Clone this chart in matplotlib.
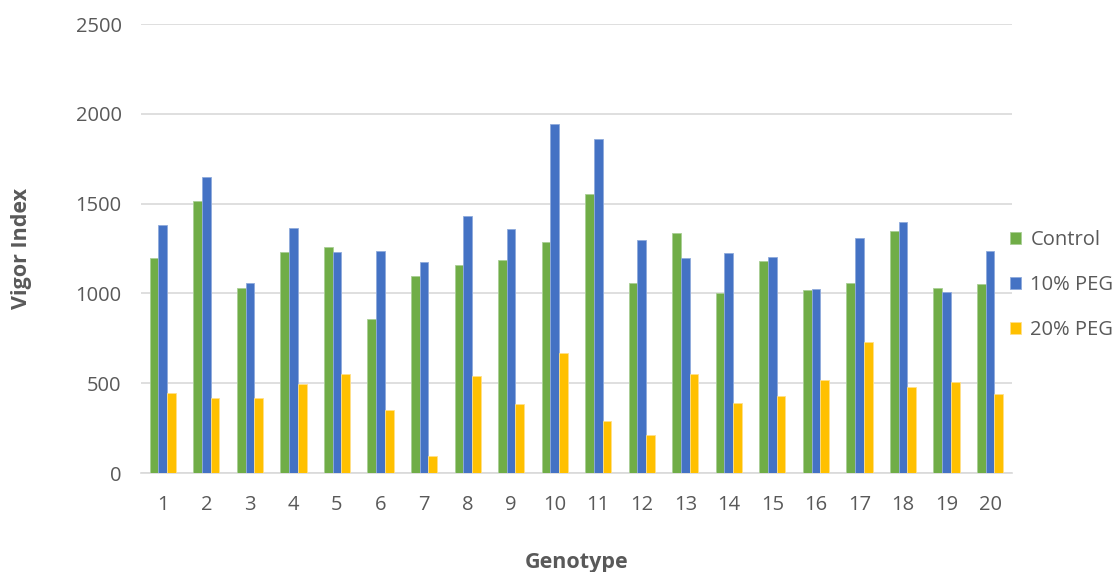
import numpy as np
import matplotlib.pyplot as plt

# values
genotypes = [str(i) for i in range(1, 21)]
control = [1195, 1516, 1030, 1230, 1260, 859, 1095, 1160, 1187, 1288,
           1553, 1059, 1338, 1002, 1180, 1017, 1059, 1345, 1030, 1052]
peg10 = [1380, 1651, 1059, 1367, 1230, 1237, 1174, 1430, 1358, 1944,
         1859, 1295, 1195, 1223, 1202, 1024, 1310, 1395, 1009, 1237]
peg20 = [445, 417, 417, 497, 553, 352, 96, 540, 382, 668,
         289, 212, 553, 388, 430, 516, 731, 481, 508, 438]

series = ['Control', '10% PEG', '20% PEG']
colors = ['#70AD47', '#4472C4', '#FFC000']
edges = ['#A9CF95', '#8FAADC', '#FFE08A']
grey = '#595959'

plt.rcParams['font.family'] = ['Open Sans', 'DejaVu Sans']

fig = plt.figure(figsize=(11.15, 5.72), dpi=100)
ax = fig.add_axes([0.1265, 0.173, 0.781, 0.785])

x = np.arange(len(genotypes))
w = 0.2
for i, (vals, c, e, name) in enumerate(zip([control, peg10, peg20], colors, edges, series)):
    ax.bar(x + (i - 1) * w, vals, width=w, color=c, edgecolor=e, linewidth=0.6,
           label=name, zorder=3)

ax.set_xlim(-0.5, len(genotypes) - 0.5)
ax.set_ylim(0, 2500)
ax.set_yticks(range(0, 2501, 500))
ax.set_xticks(x)
ax.set_xticklabels(genotypes)
ax.tick_params(axis='both', length=0, labelsize=14.5, labelcolor=grey)
ax.tick_params(axis='x', pad=16)
ax.tick_params(axis='y', pad=14)
ax.grid(axis='y', color='#D9D9D9', linewidth=1.2, zorder=0)
for s in ['top', 'right', 'left']:
    ax.spines[s].set_visible(False)
ax.spines['bottom'].set_color('#D9D9D9')
ax.spines['bottom'].set_linewidth(1.2)

ax.set_ylabel('Vigor Index', fontsize=15.5, fontweight='bold', color=grey, va='center')
ax.yaxis.set_label_coords(-0.137, 0.5)
ax.set_xlabel('Genotype', fontsize=15.5, fontweight='bold', color=grey, va='center')
ax.xaxis.set_label_coords(0.5, -0.2)

leg = ax.legend(loc='center left', bbox_to_anchor=(0.998, 0.419), frameon=False,
                fontsize=14.5, handlelength=0.55, handleheight=0.55, handletextpad=0.45,
                labelspacing=1.25, borderpad=0, borderaxespad=0)
for t in leg.get_texts():
    t.set_color(grey)

fig.savefig('out.png', dpi=100)
